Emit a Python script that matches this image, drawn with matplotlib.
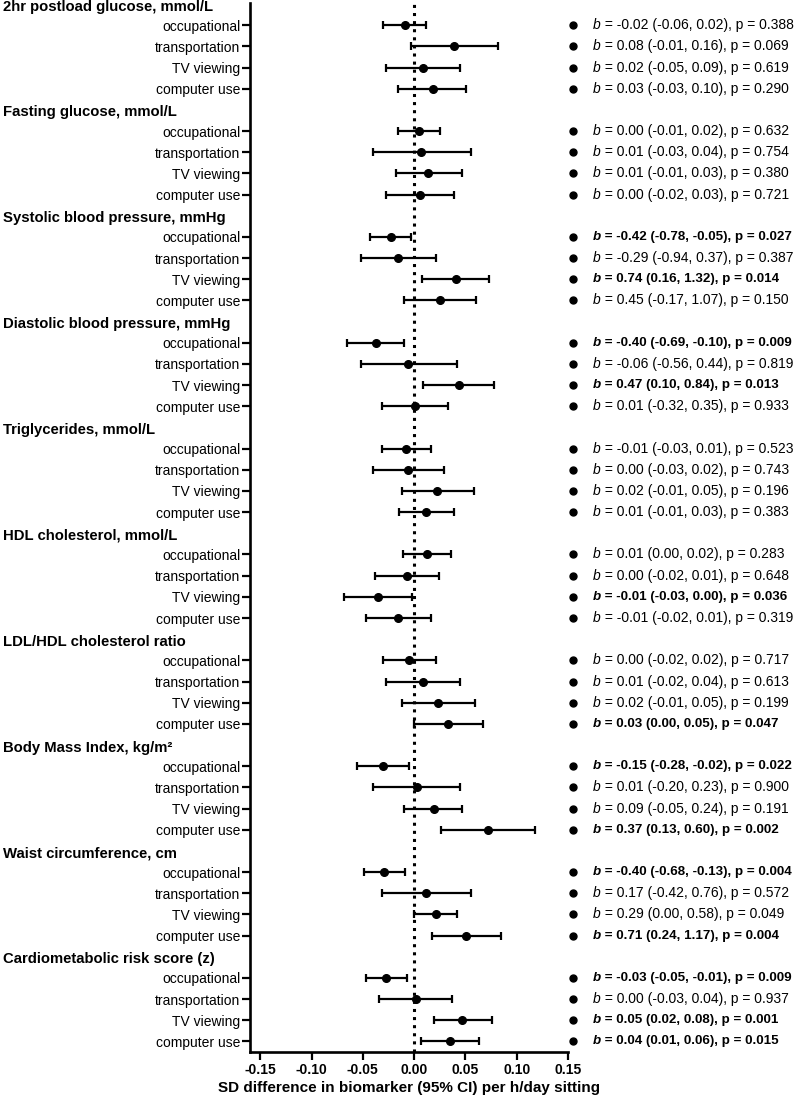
import numpy as np
import matplotlib.pyplot as plt
import matplotlib.transforms as mtransforms

plt.rcParams['font.family'] = ['Liberation Sans', 'DejaVu Sans']

# outcome groups and sitting domains
outcomes = ['2hr postload glucose, mmol/L', 'Fasting glucose, mmol/L',
            'Systolic blood pressure, mmHg', 'Diastolic blood pressure, mmHg',
            'Triglycerides, mmol/L', 'HDL cholesterol, mmol/L',
            'LDL/HDL cholesterol ratio', 'Body Mass Index, kg/m\u00b2',
            'Waist circumference, cm', 'Cardiometabolic risk score (z)']
domains = ['occupational', 'transportation', 'TV viewing', 'computer use']

# standardised differences
sd_est = [[-0.009, 0.039, 0.009, 0.018],
          [0.005, 0.007, 0.014, 0.006],
          [-0.023, -0.016, 0.041, 0.025],
          [-0.037, -0.006, 0.044, 0.001],
          [-0.008, -0.006, 0.022, 0.012],
          [0.013, -0.007, -0.035, -0.016],
          [-0.005, 0.009, 0.023, 0.033],
          [-0.030, 0.003, 0.019, 0.072],
          [-0.029, 0.012, 0.021, 0.051],
          [-0.027, 0.002, 0.047, 0.035]]
sd_lo = [[-0.030, -0.003, -0.027, -0.016],
         [-0.016, -0.040, -0.018, -0.027],
         [-0.043, -0.052, 0.008, -0.010],
         [-0.065, -0.052, 0.009, -0.031],
         [-0.031, -0.040, -0.012, -0.015],
         [-0.011, -0.038, -0.068, -0.047],
         [-0.030, -0.027, -0.012, 0.000],
         [-0.056, -0.040, -0.010, 0.026],
         [-0.049, -0.031, 0.000, 0.017],
         [-0.047, -0.034, 0.019, 0.007]]
sd_hi = [[0.012, 0.082, 0.045, 0.051],
         [0.025, 0.055, 0.047, 0.039],
         [-0.003, 0.021, 0.073, 0.060],
         [-0.010, 0.042, 0.078, 0.033],
         [0.016, 0.029, 0.058, 0.039],
         [0.036, 0.024, -0.002, 0.016],
         [0.021, 0.045, 0.059, 0.067],
         [-0.005, 0.045, 0.047, 0.118],
         [-0.009, 0.055, 0.042, 0.085],
         [-0.007, 0.037, 0.076, 0.063]]

# unstandardised b (95% CI) and p values
b_val = [[-0.02, 0.08, 0.02, 0.03], [0.00, 0.01, 0.01, 0.00],
         [-0.42, -0.29, 0.74, 0.45], [-0.40, -0.06, 0.47, 0.01],
         [-0.01, 0.00, 0.02, 0.01], [0.01, 0.00, -0.01, -0.01],
         [0.00, 0.01, 0.02, 0.03], [-0.15, 0.01, 0.09, 0.37],
         [-0.40, 0.17, 0.29, 0.71], [-0.03, 0.00, 0.05, 0.04]]
b_lo = [[-0.06, -0.01, -0.05, -0.03], [-0.01, -0.03, -0.01, -0.02],
        [-0.78, -0.94, 0.16, -0.17], [-0.69, -0.56, 0.10, -0.32],
        [-0.03, -0.03, -0.01, -0.01], [0.00, -0.02, -0.03, -0.02],
        [-0.02, -0.02, -0.01, 0.00], [-0.28, -0.20, -0.05, 0.13],
        [-0.68, -0.42, 0.00, 0.24], [-0.05, -0.03, 0.02, 0.01]]
b_hi = [[0.02, 0.16, 0.09, 0.10], [0.02, 0.04, 0.03, 0.03],
        [-0.05, 0.37, 1.32, 1.07], [-0.10, 0.44, 0.84, 0.35],
        [0.01, 0.02, 0.05, 0.03], [0.02, 0.01, 0.00, 0.01],
        [0.02, 0.04, 0.05, 0.05], [-0.02, 0.23, 0.24, 0.60],
        [-0.13, 0.76, 0.58, 1.17], [-0.01, 0.04, 0.08, 0.06]]
p_val = [[0.388, 0.069, 0.619, 0.290], [0.632, 0.754, 0.380, 0.721],
         [0.027, 0.387, 0.014, 0.150], [0.009, 0.819, 0.013, 0.933],
         [0.523, 0.743, 0.196, 0.383], [0.283, 0.648, 0.036, 0.319],
         [0.717, 0.613, 0.199, 0.047], [0.022, 0.900, 0.191, 0.002],
         [0.004, 0.572, 0.049, 0.004], [0.009, 0.937, 0.001, 0.015]]
bold_row = [[0, 0, 0, 0], [0, 0, 0, 0], [1, 0, 1, 0], [1, 0, 1, 0],
            [0, 0, 0, 0], [0, 0, 1, 0], [0, 0, 0, 1], [1, 0, 0, 1],
            [1, 0, 0, 1], [1, 0, 1, 1]]

n_dom = len(domains)
ypos, ylabels, est, lo, hi = [], [], [], [], []
for g in range(len(outcomes)):
    for r in range(n_dom):
        ypos.append(5 * g + 1 + r)
        ylabels.append(domains[r])
        est.append(sd_est[g][r])
        lo.append(sd_lo[g][r])
        hi.append(sd_hi[g][r])
ypos = np.array(ypos)
est, lo, hi = np.array(est), np.array(lo), np.array(hi)

fig = plt.figure(figsize=(7.97, 10.98), dpi=100)
ax = fig.add_axes([250 / 797, 1 - 1052 / 1098, 318 / 797, 1049 / 1098])

ax.axvline(0, color='black', linestyle=':', lw=2.2, zorder=1)
ax.errorbar(est, ypos, xerr=[est - lo, hi - est], fmt='o', color='black',
            ms=5.5, lw=1.6, capsize=2.6, capthick=1.6, zorder=3)

ax.set_xlim(-0.16, 0.15)
ax.set_ylim(49.5, -0.05)

xt = [-0.15, -0.10, -0.05, 0.00, 0.05, 0.10, 0.15]
ax.set_xticks(xt, [f'{v:.2f}' for v in xt], fontsize=10, fontweight='bold')
ax.set_yticks(ypos, ylabels, fontsize=10)
ax.tick_params(axis='x', length=6, width=1.6, pad=2)
ax.tick_params(axis='y', length=6, width=1.6, pad=1)
for s in ['top', 'right']:
    ax.spines[s].set_visible(False)
for s in ['left', 'bottom']:
    ax.spines[s].set_linewidth(1.9)
ax.set_xlabel('SD difference in biomarker (95% CI) per h/day sitting',
              fontsize=11, fontweight='bold', labelpad=3)

# group headers on the far left
trans = mtransforms.blended_transform_factory(fig.transFigure, ax.transData)
for g, name in enumerate(outcomes):
    ax.text(3 / 797, 5 * g + 0.12, name, transform=trans, fontsize=10.7,
            fontweight='bold', va='center', ha='left', clip_on=False)

# right-hand column: bullet + b (95% CI), p
ax.plot(np.full(len(ypos), 0.155), ypos, 'o', color='black', ms=5,
        clip_on=False)
k = 0
for g in range(len(outcomes)):
    for r in range(n_dom):
        if bold_row[g][r]:
            w, fs = 'bold', 9.6
        else:
            w, fs = 'normal', 10
        t = ax.text(0.1745, ypos[k], 'b', style='italic', fontweight=w,
                    fontsize=fs, va='center', ha='left', clip_on=False)
        rest = (f' = {b_val[g][r]:.2f} ({b_lo[g][r]:.2f}, {b_hi[g][r]:.2f}),'
                f' p = {p_val[g][r]:.3f}')
        ax.annotate(rest, xy=(1, 0), xycoords=t, va='bottom', ha='left',
                    fontsize=fs, fontweight=w, annotation_clip=False)
        k += 1

fig.savefig('out.png', dpi=100)
